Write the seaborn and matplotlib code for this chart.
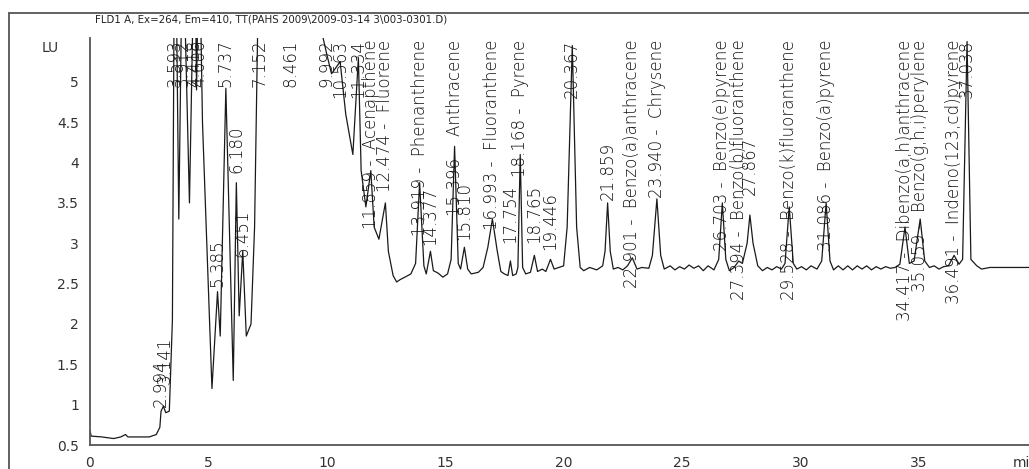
import matplotlib
matplotlib.use("Agg")
import matplotlib.pyplot as plt
from matplotlib.lines import Line2D
from matplotlib.ticker import MultipleLocator, FixedLocator, FuncFormatter
import pandas as pd
import seaborn as sns

# FLD signal: retention time (min) and response (LU)
rt_min = [
    0.00, 0.05, 0.50, 1.00, 1.30, 1.50, 1.60, 2.00, 2.50, 2.80, 2.95, 3.00, 3.10, 3.20,
    3.35, 3.48, 3.56, 3.593, 3.65, 3.75, 3.912, 4.20, 4.418, 4.50, 4.606, 4.75, 5.15,
    5.385, 5.50, 5.737, 6.05, 6.18, 6.30, 6.451, 6.60, 6.80, 6.95, 7.152, 8.461, 9.80,
    9.992, 10.20, 10.563, 10.80, 11.10, 11.334, 11.45, 11.65, 11.859, 12.00, 12.20,
    12.474, 12.60, 12.80, 12.95, 13.10, 13.30, 13.55, 13.75, 13.919, 14.10, 14.20, 14.377,
    14.50, 14.70, 14.90, 15.10, 15.25, 15.396, 15.55, 15.65, 15.81, 15.95, 16.10, 16.40,
    16.60, 16.80, 16.993, 17.20, 17.35, 17.50, 17.65, 17.754, 17.85, 18.00, 18.07,
    18.168, 18.27, 18.40, 18.60, 18.765, 18.90, 19.10, 19.25, 19.446, 19.60, 19.80,
    20.00, 20.15, 20.367, 20.55, 20.70, 20.85, 21.10, 21.40, 21.65, 21.75, 21.859,
    21.97, 22.10, 22.30, 22.50, 22.70, 22.901, 23.10, 23.30, 23.60, 23.75, 23.94, 24.10,
    24.25, 24.50, 24.70, 24.90, 25.10, 25.30, 25.50, 25.70, 25.90, 26.10, 26.35, 26.55,
    26.703, 26.85, 27.00, 27.20, 27.394, 27.55, 27.75, 27.867, 28.00, 28.20, 28.40,
    28.60, 28.80, 29.00, 29.20, 29.35, 29.528, 29.70, 29.85, 30.05, 30.25, 30.45, 30.70,
    30.90, 31.086, 31.25, 31.40, 31.60, 31.80, 32.00, 32.20, 32.40, 32.60, 32.80, 33.00,
    33.20, 33.40, 33.60, 33.80, 34.00, 34.20, 34.417, 34.60, 34.80, 35.059, 35.25, 35.45,
    35.65, 35.85, 36.05, 36.25, 36.491, 36.70, 36.85, 37.038, 37.20, 37.45, 37.65, 38.00,
    39.70,
]
signal_lu = [
    0.68, 0.61, 0.60, 0.58, 0.60, 0.63, 0.60, 0.60, 0.60, 0.63, 0.72, 0.92, 0.98, 0.90,
    0.92, 2.05, 6.50, 7.00, 6.00, 3.30, 7.00, 3.50, 7.00, 4.90, 7.00, 4.50, 1.20,
    2.40, 1.85, 4.92, 1.30, 3.75, 2.10, 2.90, 1.85, 2.00, 3.20, 7.00, 7.00, 5.60,
    5.35, 5.10, 5.25, 4.60, 4.10, 5.30, 3.90, 3.45, 3.90, 3.20, 3.05,
    3.50, 2.90, 2.60, 2.52, 2.55, 2.58, 2.62, 2.75, 3.75, 2.72, 2.62, 2.90,
    2.66, 2.63, 2.58, 2.62, 2.80, 4.20, 2.75, 2.68, 2.95, 2.68, 2.62, 2.64,
    2.70, 2.95, 3.30, 2.90, 2.65, 2.62, 2.60, 2.78, 2.60, 2.62, 2.70,
    4.10, 2.70, 2.62, 2.64, 2.85, 2.65, 2.68, 2.65, 2.80, 2.68, 2.70,
    2.72, 3.20, 5.45, 3.20, 2.70, 2.66, 2.70, 2.67, 2.72, 2.90, 3.50,
    2.90, 2.68, 2.70, 2.67, 2.72, 2.82, 2.68, 2.70, 2.69, 2.85, 3.55, 2.85,
    2.68, 2.72, 2.67, 2.71, 2.68, 2.73, 2.69, 2.72, 2.66, 2.72, 2.67, 2.80,
    3.50, 2.80, 2.66, 2.70, 2.78, 2.75, 3.00, 3.35, 3.00, 2.72, 2.66,
    2.70, 2.67, 2.71, 2.68, 2.75, 3.45, 2.75, 2.68, 2.71, 2.67, 2.72, 2.68,
    2.78, 3.50, 2.78, 2.67, 2.72, 2.67, 2.72, 2.67, 2.72, 2.68, 2.72, 2.67,
    2.71, 2.68, 2.71, 2.69, 2.70, 2.74, 3.20, 2.75, 2.78, 3.30, 2.78, 2.70,
    2.72, 2.68, 2.71, 2.72, 2.85, 2.74, 2.80, 5.50, 2.80, 2.72, 2.68, 2.70,
    2.70,
]

# Integrated peaks: retention time and compound annotation
peak_rt = [
    2.994, 3.141, 3.593, 3.912, 4.418, 4.606, 5.385, 5.737, 6.180, 6.451, 7.152, 8.461,
    9.992, 10.563, 11.334, 11.859, 12.474, 13.919, 14.377, 15.396, 15.810, 16.993,
    17.754, 18.168, 18.765, 19.446, 20.367, 21.859, 22.901, 23.940, 26.703, 27.394,
    27.867, 29.528, 31.086, 34.417, 35.059, 36.491, 37.038,
]
peak_name = [
    "", "", "", "", "", "", "", "", "", "", "", "",
    "", "", "", "Acenapthene", "Fluorene", "Phenanthrene", "", "Anthracene", "", "Fluoranthene",
    "", "Pyrene", "", "", "", "", "Benzo(a)anthracene", "Chrysene", "Benzo(e)pyrene",
    "Benzo(b)fluoranthene", "", "Benzo(k)fluoranthene", "Benzo(a)pyrene",
    "Dibenzo(a,h)anthracene", "Benzo(g,h,i)perylene", "Indeno(123,cd)pyrene", "",
]

# Start of each annotation (LU); None = hung from the top of the plot
label_start = [
    0.97, 1.25, None, None, None, None, 2.46, None, 3.87, 2.83, None, None,
    None, None, None, None, None, None, 2.98, None, 3.04, None,
    3.00, None, 3.00, 2.92, None, 3.54, None, None, None, None,
    3.60, None, None, None, None, None, None,
]

y_ticks = [0.5, 1, 1.5, 2, 2.5, 3, 3.5, 4, 4.5, 5]

W, H = 1029, 469
X0, Y0, YTOP = 90, 445, 38     # pixel positions of the plot area
PX_PER_MIN, PX_PER_LU = 23.68, 80.7

sns.set_style("white")
plt.rcParams["font.family"] = ["DejaVu Sans"]

fig = plt.figure(figsize=(W / 100, H / 100), dpi=100)
ax = fig.add_axes([X0 / W, (H - Y0) / H, (W - X0) / W, (Y0 - YTOP) / H])

trace = pd.DataFrame({"rt": rt_min, "lu": signal_lu})
sns.lineplot(data=trace, x="rt", y="lu", ax=ax, sort=False, estimator=None,
             color="#1a1a1a", linewidth=0.9)

y_top = 0.5 + (Y0 - YTOP) / PX_PER_LU
ax.set_xlim(0, (W - X0) / PX_PER_MIN)
ax.set_ylim(0.5, y_top)
ax.set_xlabel("")
ax.set_ylabel("")

for s in ("top", "right"):
    ax.spines[s].set_visible(False)
for s in ("left", "bottom"):
    ax.spines[s].set_color("#555555")
    ax.spines[s].set_linewidth(1.3)

ax.xaxis.set_major_locator(MultipleLocator(5))
ax.xaxis.set_minor_locator(MultipleLocator(1))
ax.yaxis.set_major_locator(FixedLocator(y_ticks))
ax.yaxis.set_minor_locator(MultipleLocator(0.1))
ax.yaxis.set_major_formatter(FuncFormatter(lambda v, p: f"{v:g}"))
ax.tick_params(axis="both", which="major", direction="out", length=5, width=1,
               color="#444444", labelsize=10, labelcolor="#333333", pad=3)
ax.tick_params(axis="both", which="minor", direction="out", length=2.5, width=1,
               color="#444444")

for rt, name, y0 in zip(peak_rt, peak_name, label_start):
    txt = f"{rt:.3f}" + (f" -  {name}" if name else "")
    if y0 is None:
        ax.text(rt, y_top - 0.02, txt, rotation=90, ha="center", va="top",
                fontsize=12, fontweight="light", color="#111111", clip_on=False)
    else:
        ax.text(rt, y0, txt, rotation=90, ha="center", va="bottom",
                fontsize=12, fontweight="light", color="#111111", clip_on=False)

fig.text(42 / W, 1 - 48 / H, "LU", fontsize=10, color="#333333", va="center")
fig.text(1013 / W, 1 - 463 / H, "min", fontsize=10, color="#333333", va="center")
fig.text(95 / W, 1 - 20 / H,
         "FLD1 A, Ex=264, Em=410, TT(PAHS 2009\\2009-03-14 3\\003-0301.D)",
         fontsize=7.4, color="#222222", va="center")

# instrument report frame
fig.add_artist(Line2D([9 / W, 9 / W], [0, 1 - 13 / H], transform=fig.transFigure,
                      color="#555555", linewidth=1.3))
fig.add_artist(Line2D([9 / W, 1], [1 - 13 / H, 1 - 13 / H], transform=fig.transFigure,
                      color="#555555", linewidth=1.3))

fig.savefig("out.png", dpi=100, facecolor="white")
